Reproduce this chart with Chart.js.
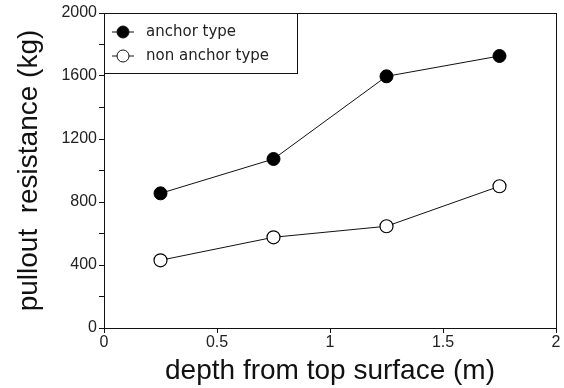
<!DOCTYPE html>
<html>
<head>
<meta charset="utf-8">
<script src="https://cdn.jsdelivr.net/npm/chart.js@4/dist/chart.umd.min.js"></script>
<style>
  html, body { margin: 0; padding: 0; background: #fff; }
  #wrap { width: 564px; height: 388px; }
</style>
</head>
<body>
<div id="wrap"><canvas id="pullChart"></canvas></div>
<script>
// data
const depths = [0.25, 0.75, 1.25, 1.75];
const anchorType = [855, 1073, 1598, 1727];
const nonAnchorType = [430, 576, 646, 900];
const seriesNames = ['anchor type', 'non anchor type'];
const xMajorTicks = [0, 0.5, 1, 1.5, 2];

const tickFont = { family: 'Liberation Sans, Arial, sans-serif', size: 16 };
const titleFont = { family: 'Liberation Sans, Arial, sans-serif', size: 28 };

// frame + legend box drawn inside the plot area
const framePlugin = {
    id: 'frame',
    afterDraw(chart) {
        const { ctx, chartArea: a } = chart;
        ctx.save();
        ctx.strokeStyle = '#111';
        ctx.lineWidth = 1;
        ctx.strokeRect(a.left + 0.5, a.top + 0.5, a.right - a.left, a.bottom - a.top);

        // legend
        const bx = a.left, by = a.top, bw = 193, bh = 60;
        ctx.strokeRect(bx + 0.5, by + 0.5, bw, bh);
        ctx.font = '15px "DejaVu Sans", sans-serif';
        ctx.textBaseline = 'middle';
        chart.data.datasets.forEach((ds, i) => {
            const y = by + 19 + i * 24;
            ctx.beginPath();
            ctx.moveTo(bx + 8, y);
            ctx.lineTo(bx + 30, y);
            ctx.strokeStyle = '#111';
            ctx.stroke();
            ctx.beginPath();
            ctx.arc(bx + 19, y, 6, 0, Math.PI * 2);
            ctx.fillStyle = ds.pointBackgroundColor;
            ctx.fill();
            ctx.stroke();
            ctx.fillStyle = '#222';
            ctx.fillText(ds.label, bx + 42, y);
        });
        ctx.restore();
    }
};

const ctx = document.getElementById('pullChart').getContext('2d');

new Chart(ctx, {
    type: 'line',
    data: {
        datasets: [
            {
                label: seriesNames[0],
                data: depths.map((d, i) => ({ x: d, y: anchorType[i] })),
                borderColor: '#111',
                borderWidth: 1,
                pointRadius: 6.5,
                pointBackgroundColor: '#000',
                pointBorderColor: '#000',
                pointBorderWidth: 1
            },
            {
                label: seriesNames[1],
                data: depths.map((d, i) => ({ x: d, y: nonAnchorType[i] })),
                borderColor: '#111',
                borderWidth: 1,
                pointRadius: 6.5,
                pointBackgroundColor: '#fff',
                pointBorderColor: '#000',
                pointBorderWidth: 1.2
            }
        ]
    },
    options: {
        responsive: true,
        maintainAspectRatio: false,
        animation: false,
        layout: { padding: { top: 13, right: 8, left: 0, bottom: 0 } },
        plugins: {
            legend: { display: false },
            tooltip: { enabled: false }
        },
        scales: {
            x: {
                type: 'linear',
                min: 0,
                max: 2,
                afterFit(scale) { scale.height = 60; },
                afterBuildTicks(scale) {
                    scale.ticks = xMajorTicks.map(v => ({ value: v }));
                },
                ticks: {
                    color: '#222',
                    font: tickFont,
                    padding: 0,
                    maxRotation: 0,
                    callback: v => String(v)
                },
                grid: { drawOnChartArea: false, tickLength: 5, color: '#111' },
                border: { color: '#111' },
                title: {
                    display: true,
                    text: 'depth from top surface (m)',
                    color: '#111',
                    font: titleFont,
                    padding: { top: 0, bottom: 0 }
                }
            },
            y: {
                min: 0,
                max: 2000,
                afterFit(scale) { scale.width = 104; },
                ticks: {
                    stepSize: 200,
                    color: '#222',
                    font: tickFont,
                    padding: 2,
                    callback: v => (v % 400 === 0 ? String(v) : '')
                },
                grid: { drawOnChartArea: false, tickLength: 5, color: '#111' },
                border: { color: '#111' },
                title: {
                    display: true,
                    text: 'pullout  resistance (kg)',
                    color: '#111',
                    font: titleFont,
                    padding: { top: 12, bottom: 0 }
                }
            }
        }
    },
    plugins: [framePlugin]
});
</script>
</body>
</html>
